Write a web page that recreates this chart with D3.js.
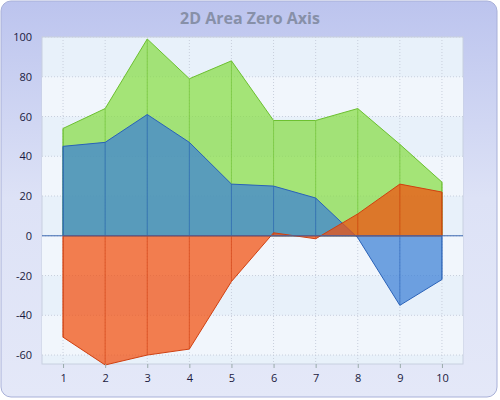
<!DOCTYPE html><html><head><meta charset="utf-8"><script src="https://d3js.org/d3.v7.min.js"></script>
<style>body{margin:0;background:#fff}</style></head><body><svg width="500" height="400"></svg>
<script>
const categories=[1,2,3,4,5,6,7,8,9,10];
const seriesGreen=[54,64,99,79,88,58,58,64,46,27];
const seriesBlue=[45,47,61,47,26,25,19,-1,-35,-22];
const seriesOrange=[-51,-65,-60,-57,-23,1.5,-1.5,11,26,22];
const yTicks=[-60,-40,-20,0,20,40,60,80,100];
const svg=d3.select("svg");
const defs=svg.append("defs");
const g=defs.append("linearGradient").attr("id","bg").attr("x1",0).attr("y1",0).attr("x2",0).attr("y2",1);
g.append("stop").attr("offset",0).attr("stop-color","#bcc4ee");
g.append("stop").attr("offset",0.5).attr("stop-color","#dde2f6");
g.append("stop").attr("offset",1).attr("stop-color","#e4e8f8");
svg.append("rect").attr("x",1).attr("y",1).attr("width",496).attr("height",396).attr("rx",10).attr("fill","url(#bg)").attr("stroke","#a8b0d8");
svg.append("text").attr("x",250).attr("y",24).attr("text-anchor","middle").attr("font-family","Segoe UI, Open Sans, sans-serif").attr("font-weight","bold").attr("font-size",16).attr("fill","#8790a8").text("2D Area Zero Axis");
const L=42,R=463,T=37,B=364;
const x=d3.scaleLinear().domain([0.5,10.5]).range([L,R]);
const y=d3.scaleLinear().domain([-64.5,100]).range([B,T]);
svg.append("rect").attr("x",L).attr("y",T).attr("width",R-L).attr("height",B-T).attr("fill","#e8f1fa").attr("stroke","#c8d0e0");
[-60,-20,20,60].forEach(v=>svg.append("rect").attr("x",L).attr("width",R-L).attr("y",y(v+20)).attr("height",y(v)-y(v+20)).attr("fill","#f1f6fc"));
yTicks.forEach(v=>svg.append("line").attr("x1",L).attr("x2",R).attr("y1",y(v)).attr("y2",y(v)).attr("stroke","#c8cfdc").attr("stroke-dasharray","1,2"));
categories.forEach(c=>svg.append("line").attr("x1",x(c)).attr("x2",x(c)).attr("y1",T).attr("y2",B).attr("stroke","#c8cfdc").attr("stroke-dasharray","1,2"));
const area=d3.area().x((d,i)=>x(categories[i])).y0(y(0)).y1(d=>y(d));
[[seriesGreen,"#86dd44","#6cc030"],[seriesBlue,"#3b7fd6","#2a62b8"],[seriesOrange,"#f24e0c","#d04010"]].forEach(([s,f,st])=>{
 svg.append("path").attr("d",area(s)).attr("fill",f).attr("fill-opacity",0.72).attr("stroke",st).attr("stroke-width",1);
 categories.forEach((c,i)=>svg.append("line").attr("x1",x(c)).attr("x2",x(c)).attr("y1",y(0)).attr("y2",y(s[i])).attr("stroke",st).attr("stroke-opacity",0.6));
});
svg.append("line").attr("x1",L).attr("x2",R).attr("y1",y(0)).attr("y2",y(0)).attr("stroke","#3a66b0");
const ya=svg.append("g").attr("transform",`translate(${L},0)`).call(d3.axisLeft(y).tickValues(yTicks).tickSize(0).tickPadding(10).tickFormat(d=>String(d)));
const xa=svg.append("g").attr("transform",`translate(0,${B})`).call(d3.axisBottom(x).tickValues(categories).tickSize(4).tickPadding(6));
[ya,xa].forEach(a=>{a.select(".domain").remove();a.selectAll("text").attr("font-family","Segoe UI, Open Sans, sans-serif").attr("font-size",11).attr("fill","#1a1a40");a.selectAll("line").attr("stroke","#9aa");});
</script></body></html>
